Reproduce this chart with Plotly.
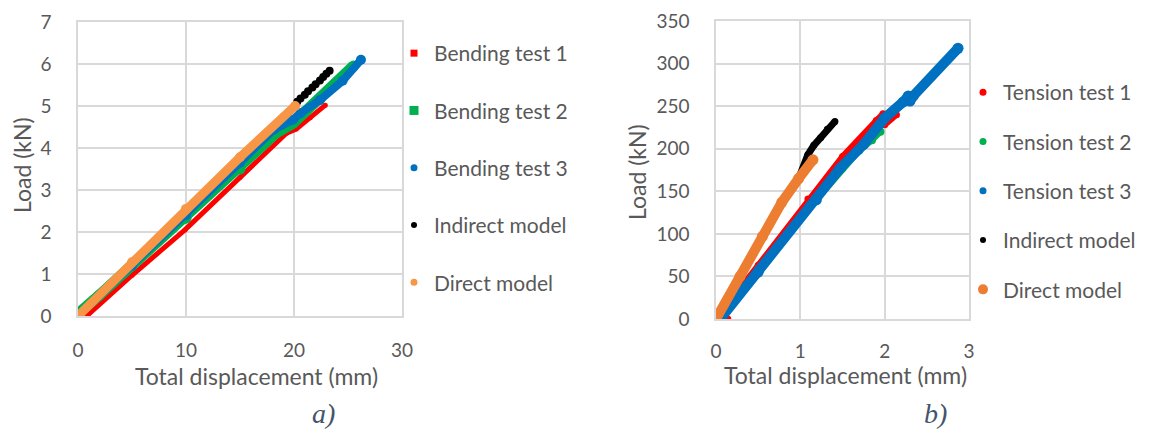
import plotly.graph_objects as go

# The page body has an 8 px margin, so the figure is drawn 8 px in and down.
PAGE_W, PAGE_H = 1149, 429
OFF = 8
W, H = PAGE_W - OFF, PAGE_H - OFF

# ---------------- Left chart (bending) ----------------
bend1_x = [0.8, 5.0, 9.9, 15.0, 19.3, 20.2, 21.5, 22.9]
bend1_y = [0.0, 0.97, 2.05, 3.3, 4.35, 4.45, 4.72, 5.02]
bend2_x = [0.0, 0.2, 2.0, 5.0, 10.0, 15.0, 18.3, 19.9, 22.5, 25.5]
bend2_y = [0.0, 0.1, 0.5, 1.2, 2.33, 3.5, 4.35, 4.59, 5.2, 5.95]
bend3_x = [0.0, 5.0, 10.0, 15.0, 18.1, 19.9, 20.6, 22.4, 24.5, 26.2]
bend3_y = [0.0, 1.2, 2.4, 3.65, 4.43, 4.67, 4.83, 5.14, 5.6, 6.1]
bind_x = [0.0, 5.0, 10.0, 15.0, 20.3, 20.6, 21.0, 21.3, 21.7, 22.0, 22.4, 22.7, 23.0, 23.3]
bind_y = [0.0, 1.28, 2.55, 3.78, 5.1, 5.18, 5.27, 5.35, 5.44, 5.52, 5.61, 5.69, 5.77, 5.84]
bdir_x = [0.0, 5.0, 10.0, 15.0, 20.1]
bdir_y = [0.0, 1.28, 2.55, 3.78, 5.0]

# ---------------- Right chart (tension) ----------------
ten1_x = [0.03, 0.5, 1.09, 1.5, 1.9, 1.98, 2.0, 2.08, 2.14]
ten1_y = [3, 63, 141, 191, 233, 241, 228, 236, 240]
ten1_dot_x = [0.14]
ten1_dot_y = [0]
ten2_x = [0.05, 0.5, 1.0, 1.5, 1.7, 1.85, 1.95]
ten2_y = [0, 58, 118, 177, 198, 210, 220]
ten3_x = [0.05, 0.5, 1.19, 1.47, 1.75, 2.0, 2.22, 2.28, 2.30, 2.34, 2.87]
ten3_y = [0, 55, 140, 177, 205, 236, 255, 262, 256, 262, 318]
tind_x = [0.0, 0.285, 0.55, 0.78, 0.98, 1.09, 1.16, 1.24, 1.32, 1.41]
tind_y = [0, 50, 97, 137, 165, 193, 204, 213, 223, 232]
tdir_x = [0.0, 0.285, 0.55, 0.78, 0.98, 1.15]
tdir_y = [0, 50, 97, 137, 165, 187]

left_names = ["Bending test 1", "Bending test 2", "Bending test 3", "Indirect model", "Direct model"]
right_names = ["Tension test 1", "Tension test 2", "Tension test 3", "Indirect model", "Direct model"]

RED, GREEN, BLUE, BLACK = "#FF0000", "#00B050", "#0070C0", "#000000"
ORANGE_L, ORANGE_R = "#F79646", "#ED7D31"
FONT = "Lato"
GREY = "#595959"

fig = go.Figure()


def band(x, y, color, w, xa, ya, msize=None):
    fig.add_trace(go.Scatter(
        x=x, y=y, mode="lines+markers", xaxis=xa, yaxis=ya,
        line=dict(color=color, width=w),
        marker=dict(color=color, size=msize if msize else w),
        showlegend=False, hoverinfo="skip"))


# left data
band(bend1_x, bend1_y, RED, 5, "x", "y")
band(bend2_x, bend2_y, GREEN, 11, "x", "y")
band(bend3_x, bend3_y, BLUE, 8, "x", "y", 10)
band(bind_x, bind_y, BLACK, 5, "x", "y", 8)
band(bdir_x, bdir_y, ORANGE_L, 9, "x", "y", 10)

# right data
band(ten1_x, ten1_y, RED, 6, "x2", "y2", 7)
band(ten1_dot_x, ten1_dot_y, RED, 6, "x2", "y2", 7)
band(ten2_x, ten2_y, GREEN, 6, "x2", "y2", 8)
band(ten3_x, ten3_y, BLUE, 10, "x2", "y2", 11)
band(tind_x, tind_y, BLACK, 7, "x2", "y2", 7)
band(tdir_x, tdir_y, ORANGE_R, 10, "x2", "y2", 11)

# legend entries
left_sym = [("square", RED, 7), ("square", GREEN, 9), ("circle", BLUE, 7),
            ("circle", BLACK, 6), ("circle", ORANGE_L, 7)]
right_sym = [("circle", RED, 7), ("circle", GREEN, 7), ("circle", BLUE, 7),
             ("circle", BLACK, 6), ("circle", ORANGE_R, 10)]
for i, (n, (s, c, sz)) in enumerate(zip(left_names, left_sym)):
    fig.add_trace(go.Scatter(x=[None], y=[None], mode="markers", name=n,
                             marker=dict(symbol=s, color=c, size=sz),
                             legend="legend", legendgroup="l%d" % i,
                             xaxis="x", yaxis="y"))
for i, (n, (s, c, sz)) in enumerate(zip(right_names, right_sym)):
    fig.add_trace(go.Scatter(x=[None], y=[None], mode="markers", name=n,
                             marker=dict(symbol=s, color=c, size=sz),
                             legend="legend2", legendgroup="r%d" % i,
                             xaxis="x2", yaxis="y2"))


def px_x(p):
    return (p - OFF) / W


def px_y(p):
    return 1 - (p - OFF) / H


axis_common = dict(showgrid=True, gridcolor="#D9D9D9", gridwidth=1.5,
                   zeroline=False, showline=True, linecolor="#D9D9D9",
                   linewidth=1.5, mirror=True, ticks="", automargin=False,
                   tickfont=dict(family=FONT, size=19, color=GREY))

fig.update_layout(
    width=W, height=H, margin=dict(l=0, r=0, t=0, b=0),
    paper_bgcolor="white", plot_bgcolor="white",
    font=dict(family=FONT, color=GREY),
    xaxis=dict(domain=[px_x(78), px_x(402)], range=[0, 30], dtick=10,
               anchor="y", ticklabelstandoff=16, **axis_common),
    yaxis=dict(domain=[px_y(316), px_y(22)], range=[0, 7], dtick=1,
               anchor="x", ticklabelstandoff=21, **axis_common),
    xaxis2=dict(domain=[px_x(716), px_x(969)], range=[0, 3], dtick=1,
                anchor="y2", ticklabelstandoff=14, **axis_common),
    yaxis2=dict(domain=[px_y(319), px_y(21)], range=[0, 350], dtick=50,
                anchor="x2", ticklabelstandoff=21, **axis_common),
    legend=dict(x=px_x(394), y=px_y(33), xanchor="left", yanchor="top",
                font=dict(family=FONT, size=21, color=GREY),
                tracegroupgap=27, bgcolor="rgba(0,0,0,0)"),
    legend2=dict(x=px_x(963), y=px_y(72), xanchor="left", yanchor="top",
                 font=dict(family=FONT, size=21, color=GREY),
                 tracegroupgap=19, bgcolor="rgba(0,0,0,0)"),
)

ann = [
    dict(text="Load (kN)", x=px_x(22), y=px_y(165), textangle=-90),
    dict(text="Total displacement (mm)", x=px_x(256), y=px_y(376)),
    dict(text="Load (kN)", x=px_x(637), y=px_y(172), textangle=-90),
    dict(text="Total displacement (mm)", x=px_x(845), y=px_y(375)),
]
for a in ann:
    fig.add_annotation(xref="paper", yref="paper", showarrow=False,
                       xanchor="center", yanchor="middle",
                       font=dict(family=FONT, size=23, color=GREY), **a)
for t, xp in [("a)", 323), ("b)", 935)]:
    fig.add_annotation(xref="paper", yref="paper", showarrow=False,
                       text="<i>%s</i>" % t, x=px_x(xp), y=px_y(413),
                       xanchor="center", yanchor="middle",
                       font=dict(family="Liberation Serif", size=28, color="#44546A"))

fig.write_html("out.html")
